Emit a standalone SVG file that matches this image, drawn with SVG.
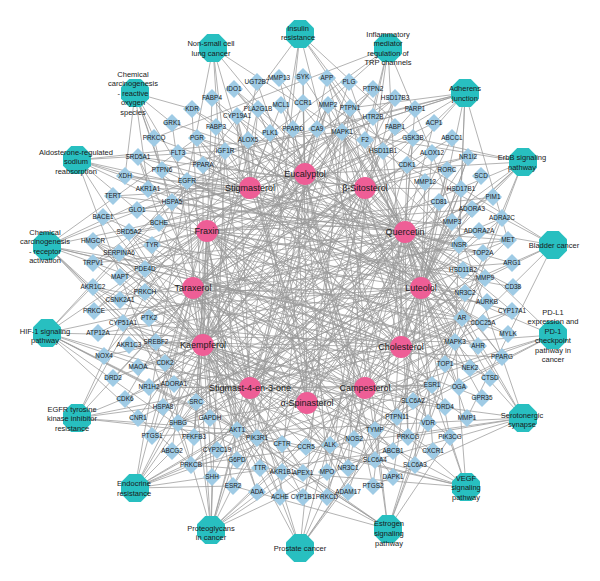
<svg xmlns="http://www.w3.org/2000/svg" xmlns:xlink="http://www.w3.org/1999/xlink" width="600" height="581" viewBox="0 0 600 581">
<defs>
<polygon id="o" points="-5.8,-14 5.8,-14 14,-5.8 14,5.8 5.8,14 -5.8,14 -14,5.8 -14,-5.8"/>
<polygon id="d" points="0,-9 9,0 0,9 -9,0"/>
</defs>
<style>
.e path{fill:none;stroke:#9a9a9a;stroke-width:.75}
.t use{fill:#9fcbe5}
.t text{font:6.4px "Liberation Sans",Arial,sans-serif;fill:#1a1a1a;text-anchor:middle}
.p use{fill:#28bfc0}
.p text{font:7.5px "Liberation Sans",Arial,sans-serif;fill:#1a1a1a;text-anchor:middle}
.c circle{fill:#ee5e96}
.c text{font:9px "Liberation Sans",Arial,sans-serif;fill:#1a1a1a;text-anchor:middle}
</style>
<rect width="600" height="581" fill="#fff"/>
<g id="edges" class="e">
<path d="M305 174L212 98M305 174L234 89M305 174L279 78M305 174L303 77M305 174L327 78M305 174L373 89M305 174L395 98M305 174L281 105M305 174L303 103M305 174L328 105M305 174L293 129M305 174L317 129M305 174L395 127M305 174L159 223M305 174L93 263M305 174L113 378M305 174L174 384M305 174L138 418M305 174L152 436M305 174L354 439M305 174L260 468M305 174L327 472M305 174L280 497M305 174L375 460M305 174L373 486M305 174L459 387"/>
<path d="M250 188L197 138M250 188L373 89M250 188L395 98M250 188L281 105M250 188L258 109M250 188L350 108M250 188L237 116M250 188L216 127M250 188L293 129M250 188L270 133M250 188L248 140M250 188L225 151M250 188L383 151M250 188L203 165M250 188L178 153M250 188L138 157M250 188L162 170M250 188L187 181M250 188L125 176M250 188L148 189M250 188L172 202M250 188L113 196M250 188L137 210M250 188L103 217M250 188L145 292M250 188L120 300M250 188L125 399M250 188L348 468M250 188L432 385M250 188L462 318M250 188L463 270M250 188L459 245"/>
<path d="M365 188L172 123M365 188L197 138M365 188L350 108M365 188L342 132M365 188L383 151M365 188L203 165M365 188L138 157M365 188L129 232M365 188L93 241M365 188L119 253M365 188L123 323M365 188L156 342M365 188L149 387M365 188L178 423M365 188L217 450M365 188L212 477M365 188L282 444M365 188L306 447M365 188L348 468M365 188L428 423M365 188L502 357M365 188L462 318M365 188L512 311M365 188L465 293M365 188L461 189M365 188L447 170M365 188L468 157"/>
<path d="M207 231L434 123M207 231L413 138M207 231L159 223M207 231L152 245M207 231L145 269M207 231L120 277M207 231L94 311M207 231L149 318M207 231L104 356M207 231L165 363M207 231L196 402M207 231L210 418M207 231L194 437M207 231L237 430M207 231L237 460M207 231L348 492M207 231L393 477M207 231L393 451M207 231L397 417M207 231L450 437M207 231L413 401M207 231L467 418M207 231L445 364M207 231L490 378M207 231L478 346M207 231L508 334M207 231L513 287M207 231L485 278M207 231L483 253M207 231L452 222M207 231L472 209M207 231L493 197"/>
<path d="M405 232L192 109M405 232L154 138M405 232L197 138M405 232L234 89M405 232L279 78M405 232L303 77M405 232L327 78M405 232L328 105M405 232L237 116M405 232L342 132M405 232L365 140M405 232L415 109M405 232L434 123M405 232L413 138M405 232L452 138M405 232L225 151M405 232L187 181M405 232L125 176M405 232L172 202M405 232L113 196M405 232L137 210M405 232L93 263M405 232L145 269M405 232L120 300M405 232L149 318M405 232L165 363M405 232L138 367M405 232L125 399M405 232L196 402M405 232L210 418M405 232L237 430M405 232L257 438M405 232L172 451M405 232L191 465M405 232L233 486M405 232L354 439M405 232L327 472M405 232L303 497M405 232L327 497M405 232L373 486M405 232L393 451M405 232L408 437M405 232L467 418M405 232L432 385M405 232L445 364M405 232L470 368M405 232L490 378M405 232L455 342M405 232L478 346M405 232L502 357M405 232L462 318M405 232L487 302M405 232L513 287M405 232L485 278M405 232L512 263M405 232L483 253M405 232L508 240M405 232L452 222M405 232L493 197M405 232L407 165"/>
<path d="M193 288L373 89M193 288L373 117M193 288L365 140M193 288L452 138M193 288L98 333M193 288L163 407M193 288L152 436M193 288L172 451M193 288L330 445M193 288L282 472M193 288L303 473M193 288L257 492M193 288L303 497M193 288L375 430M193 288L433 451M193 288L415 465M193 288L445 407M193 288L482 398M193 288L470 368M193 288L483 323M193 288L487 302M193 288L512 263M193 288L508 240M193 288L479 231M193 288L407 165"/>
<path d="M421 288L192 109M421 288L234 89M421 288L349 82M421 288L281 105M421 288L350 108M421 288L373 117M421 288L317 129M421 288L270 133M421 288L248 140M421 288L178 153M421 288L162 170M421 288L187 181M421 288L148 189M421 288L159 223M421 288L152 245M421 288L145 292M421 288L94 311M421 288L98 333M421 288L104 356M421 288L174 384M421 288L163 407M421 288L138 418M421 288L152 436M421 288L237 430M421 288L237 460M421 288L303 473M421 288L348 492M421 288L393 477M421 288L450 437M421 288L433 451M421 288L415 465M421 288L459 387M421 288L482 398M421 288L455 342M421 288L483 323M421 288L508 334M421 288L512 311M421 288L465 293M421 288L463 270M421 288L459 245M421 288L479 231M421 288L502 218M421 288L472 209M421 288L439 202M421 288L461 189M421 288L425 182M421 288L481 176M421 288L447 170M421 288L468 157M421 288L432 153"/>
<path d="M203 345L192 109M203 345L172 123M203 345L154 138M203 345L212 98M203 345L257 82M203 345L303 103M203 345L328 105M203 345L258 109M203 345L216 127M203 345L342 132M203 345L415 109M203 345L413 138M203 345L383 151M203 345L203 165M203 345L138 157M203 345L103 217M203 345L129 232M203 345L93 241M203 345L119 253M203 345L93 263M203 345L120 277M203 345L93 287M203 345L123 323M203 345L156 342M203 345L129 345M203 345L138 367M203 345L113 378M203 345L149 387M203 345L178 423M203 345L194 437M203 345L257 438M203 345L217 450M203 345L191 465M203 345L212 477M203 345L233 486M203 345L282 444M203 345L306 447M203 345L330 445M203 345L260 468M203 345L282 472M203 345L348 468M203 345L257 492M203 345L280 497M203 345L327 497M203 345L375 460M203 345L375 430M203 345L397 417M203 345L408 437M203 345L428 423M203 345L413 401M203 345L445 407M203 345L502 357M203 345L502 218M203 345L432 153"/>
<path d="M401 347L197 138M401 347L212 98M401 347L327 78M401 347L237 116M401 347L383 151M401 347L138 157M401 347L103 217M401 347L129 232M401 347L93 241M401 347L119 253M401 347L93 287M401 347L123 323M401 347L156 342M401 347L149 387M401 347L178 423M401 347L428 423M401 347L432 385M401 347L462 318M401 347L512 311M401 347L465 293M401 347L463 270M401 347L461 189M401 347L447 170M401 347L468 157"/>
<path d="M250 388L349 82M250 388L395 98M250 388L395 127M250 388L138 157M250 388L93 241M250 388L119 253M250 388L156 342M250 388L149 387M250 388L178 423M250 388L348 468M250 388L465 293M250 388L439 202M250 388L425 182M250 388L447 170M250 388L197 138M250 388L462 318M250 388L432 385M250 388L237 116M250 388L350 108"/>
<path d="M365 388L197 138M365 388L257 82M365 388L258 109M365 388L248 140M365 388L172 202M365 388L129 232M365 388L93 241M365 388L93 287M365 388L129 345M365 388L149 387M365 388L348 468M365 388L432 385M365 388L462 318M365 388L512 311M365 388L463 270M365 388L481 176"/>
<path d="M307 403L303 77M307 403L395 98M307 403L237 116M307 403L293 129M307 403L129 232M307 403L93 241M307 403L123 323M307 403L129 345M307 403L178 423M307 403L432 385M307 403L462 318M307 403L461 189M307 403L468 157M307 403L350 108M307 403L248 140M307 403L270 133"/>
<path d="M135 93L192 109M135 93L172 123M135 93L154 138M135 93L125 176M135 93L162 170M135 93L148 189M135 93L187 181M135 93L172 202"/>
<path d="M213 48L187 181M213 48L342 132M213 48L237 430M213 48L257 438M213 48L330 445M213 48L455 342"/>
<path d="M300 34L350 108M300 34L203 165M300 34L413 138M300 34L459 245M300 34L397 417M300 34L237 430M300 34L257 438"/>
<path d="M388 48L373 117M388 48L365 140M388 48L432 153M388 48L154 138M388 48L93 263M388 48L94 311M388 48L408 437M388 48L327 497"/>
<path d="M465 93L350 108M465 93L434 123M465 93L459 245M465 93L508 240M465 93L225 151M465 93L187 181M465 93L196 402M465 93L162 170M465 93L397 417M465 93L342 132M465 93L455 342M465 93L120 300"/>
<path d="M523 162L413 138M523 162L342 132M523 162L455 342M523 162L187 181M523 162L196 402M523 162L237 430M523 162L257 438M523 162L191 465M523 162L408 437M523 162L149 318"/>
<path d="M553 245L467 418M553 245L328 105M553 245L485 278M553 245L187 181M553 245L342 132M553 245L455 342M553 245L196 402"/>
<path d="M553 335L342 132M553 335L455 342M553 335L237 430M553 335L257 438M553 335L397 417M553 335L187 181M553 335L330 445"/>
<path d="M523 418L455 342M523 418L342 132M523 418L432 153M523 418L327 78M523 418L152 436M523 418L373 486M523 418L138 367M523 418L375 460M523 418L191 465M523 418L408 437"/>
<path d="M466 487L450 437M466 487L257 438M466 487L237 430M466 487L342 132M466 487L455 342M466 487L196 402M466 487L149 318M466 487L191 465M466 487L408 437"/>
<path d="M388 529L432 385M388 529L233 486M388 529L328 105M388 529L485 278M388 529L163 407M388 529L196 402M388 529L257 438M388 529L237 430M388 529L342 132M388 529L455 342M388 529L450 437"/>
<path d="M300 548L462 318M300 548L187 181M300 548L237 430M300 548L257 438M300 548L342 132M300 548L455 342M300 548L413 138M300 548L452 222M300 548L485 278"/>
<path d="M211 530L212 477M211 530L432 385M211 530L328 105M211 530L485 278M211 530L237 430M211 530L257 438M211 530L196 402M211 530L187 181M211 530L342 132M211 530L455 342M211 530L149 318M211 530L225 151M211 530L508 240M211 530L408 437"/>
<path d="M135 488L432 385M135 488L233 486M135 488L172 451M135 488L393 451M135 488L187 181M135 488L225 151M135 488L237 430M135 488L257 438M135 488L342 132M135 488L455 342M135 488L196 402M135 488L328 105M135 488L485 278"/>
<path d="M77 418L187 181M77 418L225 151M77 418L508 240M77 418L196 402M77 418L237 430M77 418L257 438M77 418L342 132M77 418L455 342"/>
<path d="M47 333L210 418M47 333L194 437M47 333L354 439M47 333L237 430M47 333L257 438M47 333L342 132M47 333L455 342M47 333L187 181M47 333L225 151M47 333L459 245M47 333L191 465M47 333L408 437"/>
<path d="M47 246L478 346M47 246L462 318M47 246L432 385M47 246L197 138M47 246L468 157M47 246L303 497M47 246L187 181M47 246L196 402M47 246L237 430M47 246L257 438M47 246L342 132M47 246L455 342"/>
<path d="M77 160L465 293M77 160L463 270M77 160L459 245M77 160L225 151M77 160L257 438M77 160L191 465M77 160L408 437M77 160L342 132M77 160L455 342"/>
</g>
<g id="targets" class="t">
<g id="t-KDR"><use href="#d" x="192" y="109"/><text x="192" y="111.3">KDR</text></g>
<g id="t-GRK1"><use href="#d" x="172" y="123"/><text x="172" y="125.3">GRK1</text></g>
<g id="t-PRKCQ"><use href="#d" x="154" y="138"/><text x="154" y="140.3">PRKCQ</text></g>
<g id="t-PGR"><use href="#d" x="197" y="138"/><text x="197" y="140.3">PGR</text></g>
<g id="t-FABP4"><use href="#d" x="212" y="98"/><text x="212" y="100.3">FABP4</text></g>
<g id="t-IDO1"><use href="#d" x="234" y="89"/><text x="234" y="91.3">IDO1</text></g>
<g id="t-UGT2B7"><use href="#d" x="257" y="82"/><text x="257" y="84.3">UGT2B7</text></g>
<g id="t-MMP13"><use href="#d" x="279" y="78"/><text x="279" y="80.3">MMP13</text></g>
<g id="t-SYK"><use href="#d" x="303" y="77"/><text x="303" y="79.3">SYK</text></g>
<g id="t-APP"><use href="#d" x="327" y="78"/><text x="327" y="80.3">APP</text></g>
<g id="t-PLG"><use href="#d" x="349" y="82"/><text x="349" y="84.3">PLG</text></g>
<g id="t-PTPN2"><use href="#d" x="373" y="89"/><text x="373" y="91.3">PTPN2</text></g>
<g id="t-HSD17B3"><use href="#d" x="395" y="98"/><text x="395" y="100.3">HSD17B3</text></g>
<g id="t-MCL1"><use href="#d" x="281" y="105"/><text x="281" y="107.3">MCL1</text></g>
<g id="t-CCR1"><use href="#d" x="303" y="103"/><text x="303" y="105.3">CCR1</text></g>
<g id="t-MMP2"><use href="#d" x="328" y="105"/><text x="328" y="107.3">MMP2</text></g>
<g id="t-PLA2G1B"><use href="#d" x="258" y="109"/><text x="258" y="111.3">PLA2G1B</text></g>
<g id="t-PTPN1"><use href="#d" x="350" y="108"/><text x="350" y="110.3">PTPN1</text></g>
<g id="t-CYP19A1"><use href="#d" x="237" y="116"/><text x="237" y="118.3">CYP19A1</text></g>
<g id="t-HTR2B"><use href="#d" x="373" y="117"/><text x="373" y="119.3">HTR2B</text></g>
<g id="t-FABP3"><use href="#d" x="216" y="127"/><text x="216" y="129.3">FABP3</text></g>
<g id="t-PPARD"><use href="#d" x="293" y="129"/><text x="293" y="131.3">PPARD</text></g>
<g id="t-CA9"><use href="#d" x="317" y="129"/><text x="317" y="131.3">CA9</text></g>
<g id="t-MAPK1"><use href="#d" x="342" y="132"/><text x="342" y="134.3">MAPK1</text></g>
<g id="t-FABP1"><use href="#d" x="395" y="127"/><text x="395" y="129.3">FABP1</text></g>
<g id="t-PLK1"><use href="#d" x="270" y="133"/><text x="270" y="135.3">PLK1</text></g>
<g id="t-ALOX5"><use href="#d" x="248" y="140"/><text x="248" y="142.3">ALOX5</text></g>
<g id="t-F2"><use href="#d" x="365" y="140"/><text x="365" y="142.3">F2</text></g>
<g id="t-PARP1"><use href="#d" x="415" y="109"/><text x="415" y="111.3">PARP1</text></g>
<g id="t-ACP1"><use href="#d" x="434" y="123"/><text x="434" y="125.3">ACP1</text></g>
<g id="t-GSK3B"><use href="#d" x="413" y="138"/><text x="413" y="140.3">GSK3B</text></g>
<g id="t-ABCC1"><use href="#d" x="452" y="138"/><text x="452" y="140.3">ABCC1</text></g>
<g id="t-IGF1R"><use href="#d" x="225" y="151"/><text x="225" y="153.3">IGF1R</text></g>
<g id="t-HSD11B1"><use href="#d" x="383" y="151"/><text x="383" y="153.3">HSD11B1</text></g>
<g id="t-PPARA"><use href="#d" x="203" y="165"/><text x="203" y="167.3">PPARA</text></g>
<g id="t-FLT3"><use href="#d" x="178" y="153"/><text x="178" y="155.3">FLT3</text></g>
<g id="t-SRD5A1"><use href="#d" x="138" y="157"/><text x="138" y="159.3">SRD5A1</text></g>
<g id="t-PTPN6"><use href="#d" x="162" y="170"/><text x="162" y="172.3">PTPN6</text></g>
<g id="t-EGFR"><use href="#d" x="187" y="181"/><text x="187" y="183.3">EGFR</text></g>
<g id="t-XDH"><use href="#d" x="125" y="176"/><text x="125" y="178.3">XDH</text></g>
<g id="t-AKR1A1"><use href="#d" x="148" y="189"/><text x="148" y="191.3">AKR1A1</text></g>
<g id="t-HSPA5"><use href="#d" x="172" y="202"/><text x="172" y="204.3">HSPA5</text></g>
<g id="t-TERT"><use href="#d" x="113" y="196"/><text x="113" y="198.3">TERT</text></g>
<g id="t-GLO1"><use href="#d" x="137" y="210"/><text x="137" y="212.3">GLO1</text></g>
<g id="t-BACE1"><use href="#d" x="103" y="217"/><text x="103" y="219.3">BACE1</text></g>
<g id="t-BCHE"><use href="#d" x="159" y="223"/><text x="159" y="225.3">BCHE</text></g>
<g id="t-SRD5A2"><use href="#d" x="129" y="232"/><text x="129" y="234.3">SRD5A2</text></g>
<g id="t-HMGCR"><use href="#d" x="93" y="241"/><text x="93" y="243.3">HMGCR</text></g>
<g id="t-TYR"><use href="#d" x="152" y="245"/><text x="152" y="247.3">TYR</text></g>
<g id="t-SERPINA6"><use href="#d" x="119" y="253"/><text x="119" y="255.3">SERPINA6</text></g>
<g id="t-TRPV1"><use href="#d" x="93" y="263"/><text x="93" y="265.3">TRPV1</text></g>
<g id="t-PDE4D"><use href="#d" x="145" y="269"/><text x="145" y="271.3">PDE4D</text></g>
<g id="t-MAPT"><use href="#d" x="120" y="277"/><text x="120" y="279.3">MAPT</text></g>
<g id="t-AKR1C2"><use href="#d" x="93" y="287"/><text x="93" y="289.3">AKR1C2</text></g>
<g id="t-PRKCH"><use href="#d" x="145" y="292"/><text x="145" y="294.3">PRKCH</text></g>
<g id="t-CSNK2A1"><use href="#d" x="120" y="300"/><text x="120" y="302.3">CSNK2A1</text></g>
<g id="t-PRKCE"><use href="#d" x="94" y="311"/><text x="94" y="313.3">PRKCE</text></g>
<g id="t-PTK2"><use href="#d" x="149" y="318"/><text x="149" y="320.3">PTK2</text></g>
<g id="t-CYP51A1"><use href="#d" x="123" y="323"/><text x="123" y="325.3">CYP51A1</text></g>
<g id="t-ATP12A"><use href="#d" x="98" y="333"/><text x="98" y="335.3">ATP12A</text></g>
<g id="t-SREBF2"><use href="#d" x="156" y="342"/><text x="156" y="344.3">SREBF2</text></g>
<g id="t-AKR1C3"><use href="#d" x="129" y="345"/><text x="129" y="347.3">AKR1C3</text></g>
<g id="t-NOX4"><use href="#d" x="104" y="356"/><text x="104" y="358.3">NOX4</text></g>
<g id="t-CDK2"><use href="#d" x="165" y="363"/><text x="165" y="365.3">CDK2</text></g>
<g id="t-MAOA"><use href="#d" x="138" y="367"/><text x="138" y="369.3">MAOA</text></g>
<g id="t-DRD2"><use href="#d" x="113" y="378"/><text x="113" y="380.3">DRD2</text></g>
<g id="t-NR1H2"><use href="#d" x="149" y="387"/><text x="149" y="389.3">NR1H2</text></g>
<g id="t-ADORA1"><use href="#d" x="174" y="384"/><text x="174" y="386.3">ADORA1</text></g>
<g id="t-CDK6"><use href="#d" x="125" y="399"/><text x="125" y="401.3">CDK6</text></g>
<g id="t-SRC"><use href="#d" x="196" y="402"/><text x="196" y="404.3">SRC</text></g>
<g id="t-HSPA8"><use href="#d" x="163" y="407"/><text x="163" y="409.3">HSPA8</text></g>
<g id="t-CNR1"><use href="#d" x="138" y="418"/><text x="138" y="420.3">CNR1</text></g>
<g id="t-SHBG"><use href="#d" x="178" y="423"/><text x="178" y="425.3">SHBG</text></g>
<g id="t-GAPDH"><use href="#d" x="210" y="418"/><text x="210" y="420.3">GAPDH</text></g>
<g id="t-PTGS1"><use href="#d" x="152" y="436"/><text x="152" y="438.3">PTGS1</text></g>
<g id="t-PFKFB3"><use href="#d" x="194" y="437"/><text x="194" y="439.3">PFKFB3</text></g>
<g id="t-AKT1"><use href="#d" x="237" y="430"/><text x="237" y="432.3">AKT1</text></g>
<g id="t-PIK3R1"><use href="#d" x="257" y="438"/><text x="257" y="440.3">PIK3R1</text></g>
<g id="t-ABCG2"><use href="#d" x="172" y="451"/><text x="172" y="453.3">ABCG2</text></g>
<g id="t-CYP2C19"><use href="#d" x="217" y="450"/><text x="217" y="452.3">CYP2C19</text></g>
<g id="t-PRKCB"><use href="#d" x="191" y="465"/><text x="191" y="467.3">PRKCB</text></g>
<g id="t-G6PD"><use href="#d" x="237" y="460"/><text x="237" y="462.3">G6PD</text></g>
<g id="t-SHH"><use href="#d" x="212" y="477"/><text x="212" y="479.3">SHH</text></g>
<g id="t-ESR2"><use href="#d" x="233" y="486"/><text x="233" y="488.3">ESR2</text></g>
<g id="t-CFTR"><use href="#d" x="282" y="444"/><text x="282" y="446.3">CFTR</text></g>
<g id="t-CCR5"><use href="#d" x="306" y="447"/><text x="306" y="449.3">CCR5</text></g>
<g id="t-ALK"><use href="#d" x="330" y="445"/><text x="330" y="447.3">ALK</text></g>
<g id="t-NOS2"><use href="#d" x="354" y="439"/><text x="354" y="441.3">NOS2</text></g>
<g id="t-TTR"><use href="#d" x="260" y="468"/><text x="260" y="470.3">TTR</text></g>
<g id="t-AKR1B1"><use href="#d" x="282" y="472"/><text x="282" y="474.3">AKR1B1</text></g>
<g id="t-APEX1"><use href="#d" x="303" y="473"/><text x="303" y="475.3">APEX1</text></g>
<g id="t-MPO"><use href="#d" x="327" y="472"/><text x="327" y="474.3">MPO</text></g>
<g id="t-NR3C1"><use href="#d" x="348" y="468"/><text x="348" y="470.3">NR3C1</text></g>
<g id="t-ADA"><use href="#d" x="257" y="492"/><text x="257" y="494.3">ADA</text></g>
<g id="t-ACHE"><use href="#d" x="280" y="497"/><text x="280" y="499.3">ACHE</text></g>
<g id="t-CYP1B1"><use href="#d" x="303" y="497"/><text x="303" y="499.3">CYP1B1</text></g>
<g id="t-PRKCD"><use href="#d" x="327" y="497"/><text x="327" y="499.3">PRKCD</text></g>
<g id="t-ADAM17"><use href="#d" x="348" y="492"/><text x="348" y="494.3">ADAM17</text></g>
<g id="t-SLC6A4"><use href="#d" x="375" y="460"/><text x="375" y="462.3">SLC6A4</text></g>
<g id="t-PTGS2"><use href="#d" x="373" y="486"/><text x="373" y="488.3">PTGS2</text></g>
<g id="t-DAPK1"><use href="#d" x="393" y="477"/><text x="393" y="479.3">DAPK1</text></g>
<g id="t-ABCB1"><use href="#d" x="393" y="451"/><text x="393" y="453.3">ABCB1</text></g>
<g id="t-TYMP"><use href="#d" x="375" y="430"/><text x="375" y="432.3">TYMP</text></g>
<g id="t-PTPN11"><use href="#d" x="397" y="417"/><text x="397" y="419.3">PTPN11</text></g>
<g id="t-PRKCG"><use href="#d" x="408" y="437"/><text x="408" y="439.3">PRKCG</text></g>
<g id="t-PIK3CG"><use href="#d" x="450" y="437"/><text x="450" y="439.3">PIK3CG</text></g>
<g id="t-CXCR1"><use href="#d" x="433" y="451"/><text x="433" y="453.3">CXCR1</text></g>
<g id="t-SLC6A3"><use href="#d" x="415" y="465"/><text x="415" y="467.3">SLC6A3</text></g>
<g id="t-VDR"><use href="#d" x="428" y="423"/><text x="428" y="425.3">VDR</text></g>
<g id="t-SLC6A2"><use href="#d" x="413" y="401"/><text x="413" y="403.3">SLC6A2</text></g>
<g id="t-DRD4"><use href="#d" x="445" y="407"/><text x="445" y="409.3">DRD4</text></g>
<g id="t-MMP1"><use href="#d" x="467" y="418"/><text x="467" y="420.3">MMP1</text></g>
<g id="t-ESR1"><use href="#d" x="432" y="385"/><text x="432" y="387.3">ESR1</text></g>
<g id="t-OGA"><use href="#d" x="459" y="387"/><text x="459" y="389.3">OGA</text></g>
<g id="t-GPR35"><use href="#d" x="482" y="398"/><text x="482" y="400.3">GPR35</text></g>
<g id="t-TOP1"><use href="#d" x="445" y="364"/><text x="445" y="366.3">TOP1</text></g>
<g id="t-NEK2"><use href="#d" x="470" y="368"/><text x="470" y="370.3">NEK2</text></g>
<g id="t-CTSD"><use href="#d" x="490" y="378"/><text x="490" y="380.3">CTSD</text></g>
<g id="t-MAPK3"><use href="#d" x="455" y="342"/><text x="455" y="344.3">MAPK3</text></g>
<g id="t-AHR"><use href="#d" x="478" y="346"/><text x="478" y="348.3">AHR</text></g>
<g id="t-PPARG"><use href="#d" x="502" y="357"/><text x="502" y="359.3">PPARG</text></g>
<g id="t-AR"><use href="#d" x="462" y="318"/><text x="462" y="320.3">AR</text></g>
<g id="t-CDC25A"><use href="#d" x="483" y="323"/><text x="483" y="325.3">CDC25A</text></g>
<g id="t-MYLK"><use href="#d" x="508" y="334"/><text x="508" y="336.3">MYLK</text></g>
<g id="t-AURKB"><use href="#d" x="487" y="302"/><text x="487" y="304.3">AURKB</text></g>
<g id="t-CYP17A1"><use href="#d" x="512" y="311"/><text x="512" y="313.3">CYP17A1</text></g>
<g id="t-NR3C2"><use href="#d" x="465" y="293"/><text x="465" y="295.3">NR3C2</text></g>
<g id="t-CD38"><use href="#d" x="513" y="287"/><text x="513" y="289.3">CD38</text></g>
<g id="t-HSD11B2"><use href="#d" x="463" y="270"/><text x="463" y="272.3">HSD11B2</text></g>
<g id="t-MMP9"><use href="#d" x="485" y="278"/><text x="485" y="280.3">MMP9</text></g>
<g id="t-ARG1"><use href="#d" x="512" y="263"/><text x="512" y="265.3">ARG1</text></g>
<g id="t-TOP2A"><use href="#d" x="483" y="253"/><text x="483" y="255.3">TOP2A</text></g>
<g id="t-INSR"><use href="#d" x="459" y="245"/><text x="459" y="247.3">INSR</text></g>
<g id="t-MET"><use href="#d" x="508" y="240"/><text x="508" y="242.3">MET</text></g>
<g id="t-ADORA2A"><use href="#d" x="479" y="231"/><text x="479" y="233.3">ADORA2A</text></g>
<g id="t-MMP3"><use href="#d" x="452" y="222"/><text x="452" y="224.3">MMP3</text></g>
<g id="t-ADRA2C"><use href="#d" x="502" y="218"/><text x="502" y="220.3">ADRA2C</text></g>
<g id="t-ADORA3"><use href="#d" x="472" y="209"/><text x="472" y="211.3">ADORA3</text></g>
<g id="t-CD81"><use href="#d" x="439" y="202"/><text x="439" y="204.3">CD81</text></g>
<g id="t-PIM1"><use href="#d" x="493" y="197"/><text x="493" y="199.3">PIM1</text></g>
<g id="t-HSD17B1"><use href="#d" x="461" y="189"/><text x="461" y="191.3">HSD17B1</text></g>
<g id="t-MMP12"><use href="#d" x="425" y="182"/><text x="425" y="184.3">MMP12</text></g>
<g id="t-SCD"><use href="#d" x="481" y="176"/><text x="481" y="178.3">SCD</text></g>
<g id="t-RORC"><use href="#d" x="447" y="170"/><text x="447" y="172.3">RORC</text></g>
<g id="t-CDK1"><use href="#d" x="407" y="165"/><text x="407" y="167.3">CDK1</text></g>
<g id="t-NR1I2"><use href="#d" x="468" y="157"/><text x="468" y="159.3">NR1I2</text></g>
<g id="t-ALOX12"><use href="#d" x="432" y="153"/><text x="432" y="155.3">ALOX12</text></g>
</g>
<g id="pathways" class="p">
<g id="p-ros"><use href="#o" x="135" y="93"/><text><tspan x="133" y="76.7">Chemical</tspan><tspan x="133" y="86.2">carcinogenesis</tspan><tspan x="133" y="95.7">- reactive</tspan><tspan x="133" y="105.2">oxygen</tspan><tspan x="133" y="114.7">species</tspan></text></g>
<g id="p-nsclc"><use href="#o" x="213" y="48"/><text><tspan x="211" y="45.7">Non-small cell</tspan><tspan x="211" y="55.7">lung cancer</tspan></text></g>
<g id="p-insulin"><use href="#o" x="300" y="34"/><text><tspan x="298" y="30.7">Insulin</tspan><tspan x="298" y="39.7">resistance</tspan></text></g>
<g id="p-trp"><use href="#o" x="388" y="48"/><text><tspan x="388" y="36.7">Inflammatory</tspan><tspan x="388" y="46.2">mediator</tspan><tspan x="388" y="55.7">regulation of</tspan><tspan x="388" y="64.7">TRP channels</tspan></text></g>
<g id="p-adherens"><use href="#o" x="465" y="93"/><text><tspan x="465" y="90.7">Adherens</tspan><tspan x="465" y="100.7">junction</tspan></text></g>
<g id="p-erbb"><use href="#o" x="523" y="162"/><text><tspan x="522" y="159.7">ErbB signaling</tspan><tspan x="522" y="169.7">pathway</tspan></text></g>
<g id="p-bladder"><use href="#o" x="553" y="245"/><text x="554" y="247.7">Bladder cancer</text></g>
<g id="p-pdl1"><use href="#o" x="553" y="335"/><text><tspan x="553" y="314.7">PD-L1</tspan><tspan x="553" y="324.2">expression and</tspan><tspan x="553" y="333.7">PD-1</tspan><tspan x="553" y="343.2">checkpoint</tspan><tspan x="553" y="352.7">pathway in</tspan><tspan x="553" y="361.7">cancer</tspan></text></g>
<g id="p-serotonergic"><use href="#o" x="523" y="418"/><text><tspan x="522" y="417.7">Serotonergic</tspan><tspan x="522" y="426.7">synapse</tspan></text></g>
<g id="p-vegf"><use href="#o" x="466" y="487"/><text><tspan x="466" y="480.7">VEGF</tspan><tspan x="466" y="490.2">signaling</tspan><tspan x="466" y="499.7">pathway</tspan></text></g>
<g id="p-estrogen"><use href="#o" x="388" y="529"/><text><tspan x="389" y="525.7">Estrogen</tspan><tspan x="389" y="535.7">signaling</tspan><tspan x="389" y="545.7">pathway</tspan></text></g>
<g id="p-prostate"><use href="#o" x="300" y="548"/><text x="300" y="550.7">Prostate cancer</text></g>
<g id="p-proteoglycans"><use href="#o" x="211" y="530"/><text><tspan x="211" y="530.7">Proteoglycans</tspan><tspan x="211" y="539.7">in cancer</tspan></text></g>
<g id="p-endocrine"><use href="#o" x="135" y="488"/><text><tspan x="134" y="485.7">Endocrine</tspan><tspan x="134" y="495.7">resistance</tspan></text></g>
<g id="p-egfr-tki"><use href="#o" x="77" y="418"/><text><tspan x="72" y="411.7">EGFR tyrosine</tspan><tspan x="72" y="421.2">kinase inhibitor</tspan><tspan x="72" y="430.7">resistance</tspan></text></g>
<g id="p-hif1"><use href="#o" x="47" y="333"/><text><tspan x="45" y="333.7">HIF-1 signaling</tspan><tspan x="45" y="342.7">pathway</tspan></text></g>
<g id="p-receptor"><use href="#o" x="47" y="246"/><text><tspan x="45" y="234.7">Chemical</tspan><tspan x="45" y="244.2">carcinogenesis</tspan><tspan x="45" y="253.7">- receptor</tspan><tspan x="45" y="263.2">activation</tspan></text></g>
<g id="p-aldosterone"><use href="#o" x="77" y="160"/><text><tspan x="76" y="154.7">Aldosterone-regulated</tspan><tspan x="76" y="164.2">sodium</tspan><tspan x="76" y="173.7">reabsorption</tspan></text></g>
</g>
<g id="compounds" class="c">
<g id="c-eucalyptol"><circle cx="305" cy="174" r="11"/><text x="305" y="177.2">Eucalyptol</text></g>
<g id="c-stigmasterol"><circle cx="250" cy="188" r="11"/><text x="250" y="191.2">Stigmasterol</text></g>
<g id="c-beta-sitosterol"><circle cx="365" cy="188" r="11"/><text x="365" y="191.2">β-Sitosterol</text></g>
<g id="c-fraxin"><circle cx="207" cy="231" r="11"/><text x="207" y="234.2">Fraxin</text></g>
<g id="c-quercetin"><circle cx="405" cy="232" r="11"/><text x="405" y="235.2">Quercetin</text></g>
<g id="c-taraxerol"><circle cx="193" cy="288" r="11"/><text x="193" y="291.2">Taraxerol</text></g>
<g id="c-luteolol"><circle cx="421" cy="288" r="11"/><text x="421" y="291.2">Luteolol</text></g>
<g id="c-kaempferol"><circle cx="203" cy="345" r="11"/><text x="203" y="348.2">Kaempferol</text></g>
<g id="c-cholesterol"><circle cx="401" cy="347" r="11"/><text x="401" y="350.2">Cholesterol</text></g>
<g id="c-stigmast-4-en-3-one"><circle cx="250" cy="388" r="11"/><text x="250" y="391.2">Stigmast-4-en-3-one</text></g>
<g id="c-campesterol"><circle cx="365" cy="388" r="11"/><text x="365" y="391.2">Campesterol</text></g>
<g id="c-alpha-spinasterol"><circle cx="307" cy="403" r="11"/><text x="307" y="406.2">α-Spinasterol</text></g>
</g>
</svg>
